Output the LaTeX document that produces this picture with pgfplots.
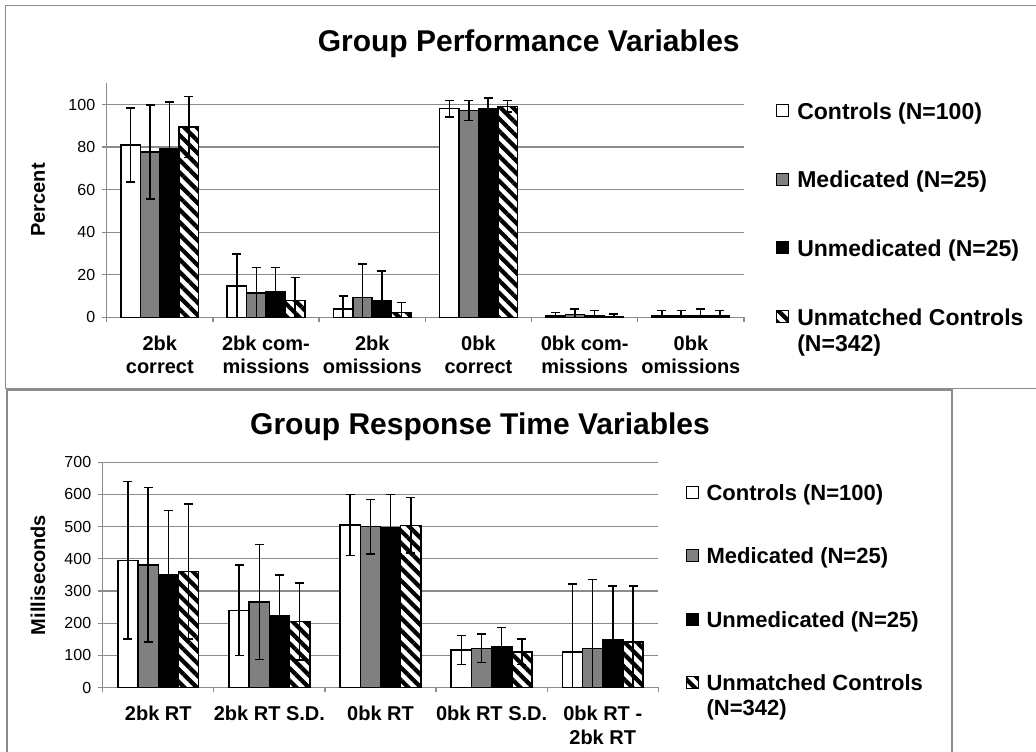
\documentclass[border=0pt]{standalone}
\usepackage{fontspec}
\setmainfont{Liberation Sans}
\usepackage{pgfplots}
\pgfplotsset{compat=1.18}
\usepackage{pgfplotstable}
\usetikzlibrary{patterns.meta}
\definecolor{axgray}{HTML}{8C8C8C}
\definecolor{bargray}{HTML}{808080}

\pgfplotstableread{
x c ce m me u ue n ne
0 80.9 17.4 77.7 22.1 79.3 21.9 89.5 14.4
1 14.8 14.9 11.5 11.8 11.9 11.4 7.8 10.8
2 3.8 6.2 9.2 15.8 7.8 13.9 2.3 4.6
3 98.1 3.9 97.3 4.7 98.1 5.0 99.2 2.8
4 0.5 1.8 1.3 2.6 0.5 2.6 0.4 1.1
5 0.5 2.6 0.5 2.6 0.5 3.4 0.5 2.6
}\perf

\pgfplotstableread{
x c ce m me u ue n ne
0 395 245 381 240 351 199 361 210
1 240 141 266 179 222 128 205 120
2 505 95 500 85 498 102 504 86
3 116 45 122 44 127 59 111 39
4 111 210 122 214 147 169 141 175
}\rt

\pgfplotsset{
  chartbase/.style={
    scale only axis, ybar=0pt,
    axis x line*=bottom, axis y line*=left,
    axis line style={draw=axgray, line width=1.3pt},
    ymajorgrids, major grid style={draw=axgray, line width=1.3pt},
    tick align=outside, ytick pos=left, xtick pos=bottom,
    major tick length=5pt,
    tick style={draw=axgray, line width=1.3pt},
    xticklabels={},
    extra x tick style={major tick length=0pt, grid=none},
    x tick label style={font=\bfseries\fontsize{20}{23.5}\selectfont, align=center, yshift=-15pt},
    y tick label style={font=\fontsize{16}{19}\selectfont, xshift=-3pt},
    /pgf/number format/assume math mode=true,
    legend image code/.code={\draw[#1, line width=1.1pt] (0pt,-5pt) rectangle (12pt,7pt);},
    legend cell align=left,
    legend style={draw=none, fill=none, inner sep=0pt, anchor=north west,
      cells={anchor=west, align=left},
      /tikz/every odd column/.append style={column sep=6pt}},
  },
  eb/.style={error bars/.cd, y dir=both, y explicit,
    error bar style={line width=1.5pt, draw=black},
    error mark options={rotate=90, draw=black, line width=1.5pt, mark size=4.5pt}},
  sw/.style={draw=black, fill=white, line width=1.5pt},
  sg/.style={draw=black, fill=bargray, line width=1.5pt},
  sb/.style={draw=black, fill=black, line width=1.5pt},
  sh/.style={draw=black, fill=white, line width=1.5pt,
    postaction={pattern={Lines[angle=-45, distance=8.8pt, line width=4.2pt]}, pattern color=black},
    legend image code/.code={\node[draw=none, fill=none, inner sep=0pt, minimum height=40pt, minimum width=1pt] at (6pt,0pt) {};
      \draw[##1, line width=1.1pt] (0pt,8pt) rectangle (12pt,20pt);}},
}

\begin{document}
\begin{tikzpicture}[x=1pt,y=1pt]
\useasboundingbox (0,0) rectangle (1036,752);
% chart area frames
\draw[axgray, line width=1.5pt] (5.7,363) -- (5.7,746.3) -- (1036,746.3);
\draw[axgray, line width=1.5pt] (5.7,363.5) -- (1036,363.5);
\draw[axgray, line width=1.5pt] (7,0) -- (7,362) -- (952,362) -- (952,0);

\begin{axis}[chartbase,
  at={(106.7pt,434.7pt)}, anchor=south west,
  width=637.3pt, height=234pt,
  bar width=19.4pt,
  xmin=-0.5, xmax=5.5, ymin=0, ymax=110,
  ytick={0,20,...,100},
  xtick={-0.5,0.5,...,5.5},
  extra x ticks={0,1,2,3,4,5},
  extra x tick labels={{2bk\\correct},{2bk com-\\missions},{2bk\\omissions},{0bk\\correct},{0bk com-\\missions},{0bk\\omissions}},
  legend style={at={(1,1)}, xshift=32pt, yshift=-17pt,
    font=\bfseries\fontsize{23}{26}\selectfont, row sep=46.5pt},
]
\addplot[sw, eb] table[x=x, y=c, y error=ce] {\perf};
\addplot[sg, eb] table[x=x, y=m, y error=me] {\perf};
\addplot[sb, eb] table[x=x, y=u, y error=ue] {\perf};
\addplot[sh, eb] table[x=x, y=n, y error=ne] {\perf};
\legend{Controls (N=100), Medicated (N=25), Unmedicated (N=25), {Unmatched Controls\\(N=342)}}
\end{axis}

\begin{axis}[chartbase,
  at={(102.7pt,64.5pt)}, anchor=south west,
  width=555.6pt, height=225.2pt,
  bar width=20.2pt,
  xmin=-0.5, xmax=4.5, ymin=0, ymax=700,
  ytick={0,100,...,700},
  xtick={-0.5,0.5,...,4.5},
  extra x ticks={0,1,2,3,4},
  extra x tick labels={{2bk RT},{2bk RT S.D.},{0bk RT},{0bk RT S.D.},{0bk RT -\\2bk RT}},
  legend style={at={(1,1)}, xshift=27pt, yshift=-20pt,
    font=\bfseries\fontsize{22}{25}\selectfont, row sep=42pt},
]
\addplot[sw, eb] table[x=x, y=c, y error=ce] {\rt};
\addplot[sg, eb] table[x=x, y=m, y error=me] {\rt};
\addplot[sb, eb] table[x=x, y=u, y error=ue] {\rt};
\addplot[sh, eb] table[x=x, y=n, y error=ne] {\rt};
\legend{Controls (N=100), Medicated (N=25), Unmedicated (N=25), {Unmatched Controls\\(N=342)}}
\end{axis}

\node[anchor=base, font=\bfseries\fontsize{30}{34}\selectfont] at (528.7,700.3) {Group Performance Variables};
\node[anchor=base, font=\bfseries\fontsize{30}{34}\selectfont] at (480,317) {Group Response Time Variables};
\node[rotate=90, font=\bfseries\fontsize{20}{24}\selectfont] at (38,552) {Percent};
\node[rotate=90, font=\bfseries\fontsize{20}{24}\selectfont] at (38,177) {Milliseconds};
\end{tikzpicture}
\end{document}
